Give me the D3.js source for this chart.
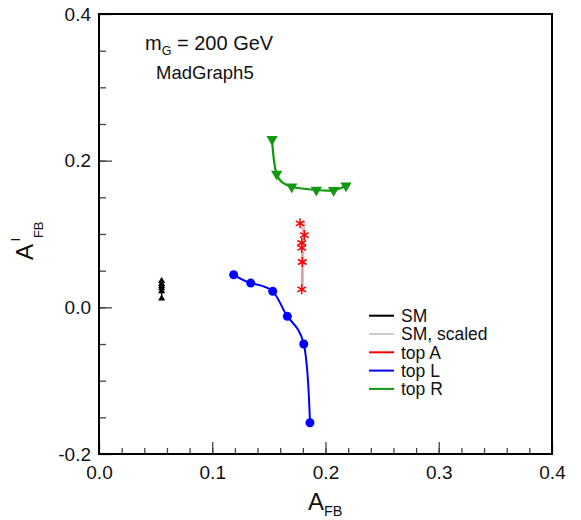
<!DOCTYPE html>
<html>
<head>
<meta charset="utf-8">
<script src="https://cdn.jsdelivr.net/npm/d3@7"></script>
<style>
  body { margin: 0; background: #fff; }
  text { font-family: "Liberation Sans", Arial, Helvetica, sans-serif; fill: #111; }
</style>
</head>
<body>
<div id="graphic"></div>
<script>
// values
var sm_x = [0.0553, 0.0553, 0.0553, 0.0553, 0.0553, 0.0553];
var sm_y = [0.036, 0.032, 0.029, 0.026, 0.022, 0.012];

var smScaled_x = [0.1805, 0.1815, 0.1805, 0.1800, 0.1800, 0.1795];
var smScaled_y = [0.1145, 0.0986, 0.0877, 0.081, 0.0618, 0.0245];

var topA_x = [0.1775, 0.1813, 0.1790, 0.1790, 0.1795, 0.1790];
var topA_y = [0.1145, 0.0986, 0.0877, 0.081, 0.0618, 0.0245];

var topL_x = [0.1189, 0.1340, 0.1534, 0.1663, 0.1808, 0.1863];
var topL_y = [0.0445, 0.0331, 0.0218, -0.0123, -0.0500, -0.1574];

var topR_x = [0.1528, 0.1569, 0.1702, 0.1919, 0.2072, 0.2181];
var topR_y = [0.2291, 0.1818, 0.1645, 0.1600, 0.1596, 0.1658];

var xTicks = [0.0, 0.1, 0.2, 0.3, 0.4];
var yTicks = [-0.2, 0.0, 0.2, 0.4];

var legendNames = ["SM", "SM, scaled", "top A", "top L", "top R"];
var legendColors = ["#000000", "#cccccc", "#ff0000", "#0000ff", "#119911"];

function zip(xs, ys) {
    var out = [];
    for (var i = 0; i < xs.length; i++) {
        out.push({x: xs[i], y: ys[i]});
    }
    return out;
}

var plotLeft = 99, plotTop = 14, plotWidth = 453, plotHeight = 440;

var svg = d3.select("#graphic")
    .append("svg")
    .attr("width", 581)
    .attr("height", 520);

var x = d3.scaleLinear().domain([0, 0.4]).range([plotLeft, plotLeft + plotWidth]);
var y = d3.scaleLinear().domain([-0.2, 0.4]).range([plotTop + plotHeight, plotTop]);

// minor ticks
svg.append("g")
    .attr("transform", "translate(0," + (plotTop + plotHeight) + ")")
    .call(d3.axisBottom(x).tickValues(d3.range(0.02, 0.39, 0.02)).tickSize(-6).tickFormat(""))
    .call(function(g) { g.select(".domain").remove(); })
    .selectAll("line").attr("stroke", "#444").attr("stroke-width", 1.3);

svg.append("g")
    .attr("transform", "translate(" + plotLeft + ",0)")
    .call(d3.axisLeft(y).tickValues(d3.range(-0.15, 0.39, 0.05)).tickSize(-7).tickFormat(""))
    .call(function(g) { g.select(".domain").remove(); })
    .selectAll("line").attr("stroke", "#444").attr("stroke-width", 1.3);

// major ticks
var xAxis = svg.append("g")
    .attr("transform", "translate(0," + (plotTop + plotHeight) + ")")
    .call(d3.axisBottom(x).tickValues(xTicks).tickSize(-12).tickPadding(12).tickFormat(d3.format(".1f")));
xAxis.select(".domain").remove();
xAxis.selectAll("line").attr("stroke", "#444").attr("stroke-width", 1.3);
xAxis.selectAll("text").attr("font-size", 19).attr("font-family", null);

var yAxis = svg.append("g")
    .attr("transform", "translate(" + plotLeft + ",0)")
    .call(d3.axisLeft(y).tickValues(yTicks).tickSize(-13).tickPadding(8)
        .tickFormat(function(d) { return d3.format(".1f")(d).replace("\u2212", "-"); }));
yAxis.select(".domain").remove();
yAxis.selectAll("line").attr("stroke", "#444").attr("stroke-width", 1.3);
yAxis.selectAll("text").attr("font-size", 19).attr("font-family", null);

// frame
svg.append("rect")
    .attr("x", plotLeft)
    .attr("y", plotTop)
    .attr("width", plotWidth)
    .attr("height", plotHeight)
    .attr("fill", "none")
    .attr("stroke", "#000")
    .attr("stroke-width", 2);

// curves
var smooth = d3.line()
    .x(function(d) { return x(d.x); })
    .y(function(d) { return y(d.y); })
    .curve(d3.curveNatural);

var straight = d3.line()
    .x(function(d) { return x(d.x); })
    .y(function(d) { return y(d.y); });

svg.append("path").attr("d", straight(zip(sm_x, sm_y)))
    .attr("fill", "none").attr("stroke", "#000").attr("stroke-width", 1.5);

svg.append("path").attr("d", straight(zip(smScaled_x, smScaled_y)))
    .attr("fill", "none").attr("stroke", "#cccccc").attr("stroke-width", 3);

svg.append("path").attr("d", straight(zip(topA_x, topA_y)))
    .attr("fill", "none").attr("stroke", "#ff0000").attr("stroke-width", 1).attr("stroke-opacity", 0.4);

svg.append("path").attr("d", smooth(zip(topL_x, topL_y)))
    .attr("fill", "none").attr("stroke", "#0000ff").attr("stroke-width", 2);

svg.append("path").attr("d", smooth(zip(topR_x, topR_y)))
    .attr("fill", "none").attr("stroke", "#119911").attr("stroke-width", 2.2);

// markers
svg.selectAll(".sm")
    .data(zip(sm_x, sm_y))
    .enter().append("path")
    .attr("class", "sm")
    .attr("d", d3.symbol().type(d3.symbolTriangle).size(22))
    .attr("transform", function(d) { return "translate(" + x(d.x) + "," + y(d.y) + ")"; })
    .attr("fill", "#000");

svg.selectAll(".smscaled")
    .data(zip(smScaled_x, smScaled_y))
    .enter().append("path")
    .attr("class", "smscaled")
    .attr("d", d3.symbol().type(d3.symbolSquare).size(22))
    .attr("transform", function(d) { return "translate(" + x(d.x) + "," + y(d.y) + ")"; })
    .attr("fill", "#cccccc");

svg.selectAll(".topa")
    .data(zip(topA_x, topA_y))
    .enter().append("path")
    .attr("class", "topa")
    .attr("d", d3.symbol().type(d3.symbolAsterisk).size(70))
    .attr("transform", function(d) { return "translate(" + x(d.x) + "," + y(d.y) + ")"; })
    .attr("fill", "none")
    .attr("stroke", "#ff0000")
    .attr("stroke-width", 1.5);

svg.selectAll(".topl")
    .data(zip(topL_x, topL_y))
    .enter().append("circle")
    .attr("class", "topl")
    .attr("cx", function(d) { return x(d.x); })
    .attr("cy", function(d) { return y(d.y); })
    .attr("r", 4.5)
    .attr("fill", "#0000ff");

svg.selectAll(".topr")
    .data(zip(topR_x, topR_y))
    .enter().append("path")
    .attr("class", "topr")
    .attr("d", d3.symbol().type(d3.symbolTriangle).size(55))
    .attr("transform", function(d) { return "translate(" + x(d.x) + "," + y(d.y) + ") rotate(180)"; })
    .attr("fill", "#119911");

// legend
var legend = svg.selectAll(".legend")
    .data(legendNames)
    .enter().append("g")
    .attr("class", "legend")
    .attr("transform", function(d, i) { return "translate(369," + (315.7 + i * 18.3) + ")"; });

legend.append("line")
    .attr("x1", 0).attr("x2", 25)
    .attr("y1", 0).attr("y2", 0)
    .attr("stroke", function(d, i) { return legendColors[i]; })
    .attr("stroke-width", 2);

legend.append("text")
    .attr("x", 32)
    .attr("y", 6.3)
    .attr("font-size", 17.5)
    .text(function(d) { return d; });

// annotations
var mg = svg.append("text").attr("x", 145).attr("y", 50).attr("font-size", 20);
mg.append("tspan").text("m");
mg.append("tspan").attr("font-size", 12.5).attr("dy", 5).text("G");
mg.append("tspan").attr("dy", -5).text(" = 200 GeV");

svg.append("text").attr("x", 156).attr("y", 79).attr("font-size", 18.5).text("MadGraph5");

// axis titles
var xt = svg.append("text").attr("x", 308).attr("y", 510).attr("font-size", 24);
xt.append("tspan").text("A");
xt.append("tspan").attr("font-size", 14.5).attr("dy", 5.5).text("FB");

var yt = svg.append("text")
    .attr("transform", "translate(33,260) rotate(-90)")
    .attr("font-size", 24);
yt.append("tspan").text("A");
yt.append("tspan").attr("font-size", 13).attr("dx", 3).attr("dy", -13).text("l");
yt.append("tspan").attr("font-size", 13).attr("dx", 0).attr("dy", 23).text("FB");
</script>
</body>
</html>
